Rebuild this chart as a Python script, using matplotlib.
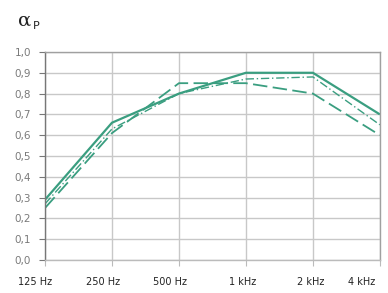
import numpy as np
import matplotlib.pyplot as plt
from matplotlib.transforms import offset_copy

freqs = [125, 250, 500, 1000, 2000, 4000]
freq_labels = ["125 Hz", "250 Hz", "500 Hz", "1 kHz", "2 kHz", "4 kHz"]

alpha_a = [0.29, 0.66, 0.80, 0.90, 0.90, 0.70]
alpha_b = [0.27, 0.63, 0.80, 0.87, 0.88, 0.65]
alpha_c = [0.25, 0.61, 0.85, 0.85, 0.80, 0.60]

green = "#3a9e80"
grid_c = "#c8c8c8"
txt_c = "#7a7a7a"

fig = plt.figure(figsize=(3.88, 2.93), dpi=100)
ax = fig.add_axes([0.116, 0.1126, 0.863, 0.71])

ax.plot(freqs, alpha_a, color=green, lw=1.6, solid_capstyle="butt")
ax.plot(freqs, alpha_b, color=green, lw=1.0, ls=(0, (6, 2, 1, 2)))
ax.plot(freqs, alpha_c, color=green, lw=1.3, ls=(0, (8, 3)))

ax.set_xscale("log", base=2)
ax.set_xlim(125, 4000)
ax.set_ylim(0, 1.0)
ax.set_xticks(freqs)
ax.set_xticklabels([])
ax.minorticks_off()
yt = np.round(np.arange(0, 1.01, 0.1), 1)
ax.set_yticks(yt)
ax.set_yticklabels([f"{v:.1f}".replace(".", ",") for v in yt])

ax.grid(True, color=grid_c, lw=1.0)
for s in ax.spines.values():
    s.set_color("#a0a0a0")
    s.set_linewidth(1.0)
ax.spines["left"].set_color("#777777")
ax.spines["bottom"].set_color("#bbbbbb")
ax.tick_params(axis="y", length=4, color="#777777", labelsize=7.5, labelcolor=txt_c, pad=6)
ax.tick_params(axis="x", length=4, color="#bbbbbb")

# x labels sit slightly left of their gridlines, as in the original
shifts = [-10, -9, -9, -3, -2, -18]
for f, lab, dx in zip(freqs, freq_labels, shifts):
    tr = offset_copy(ax.get_xaxis_transform(), fig=fig, x=dx, y=-22, units="dots")
    ax.text(f, 0, lab, transform=tr, ha="center", va="center", fontsize=7, color="#222222")

fig.text(0.047, 0.93, "α", fontsize=14, color="#222222", ha="left", va="center", family="DejaVu Serif")
fig.text(0.085, 0.91, "P", fontsize=8, color="#222222", ha="left", va="center")

fig.savefig("out.png", dpi=100)
